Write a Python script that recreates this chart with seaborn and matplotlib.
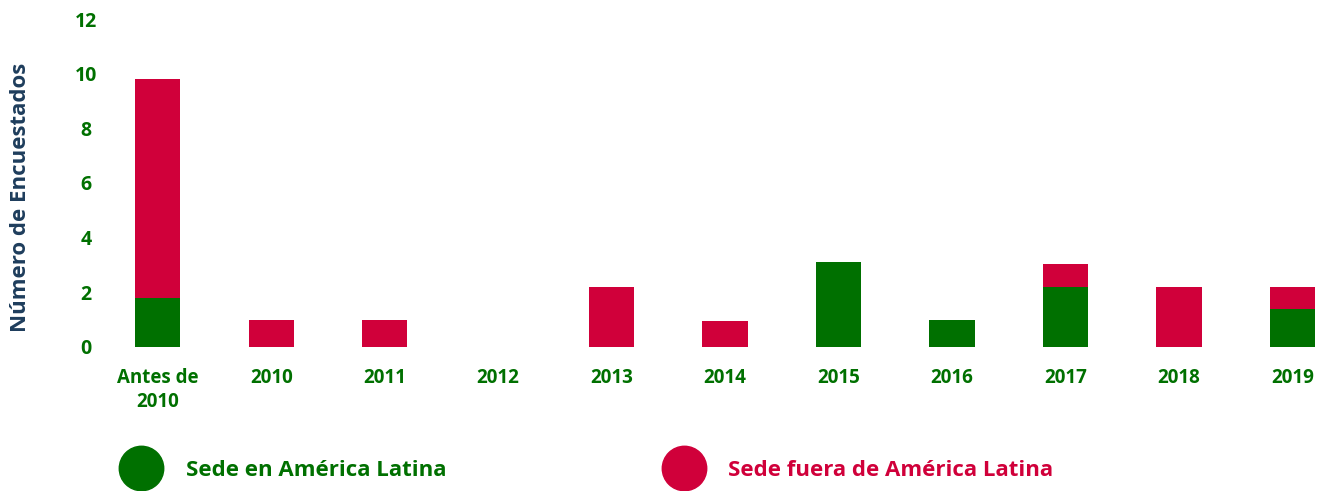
import matplotlib
matplotlib.use("Agg")
import matplotlib.pyplot as plt
from matplotlib.lines import Line2D
import pandas as pd
import seaborn as sns

categories = ["Antes de\n2010", "2010", "2011", "2012", "2013", "2014",
              "2015", "2016", "2017", "2018", "2019"]
sede_en_al = [1.8, 0, 0, 0, 0, 0, 3.1, 1.0, 2.2, 0, 1.4]
sede_fuera_al = [8.0, 1.0, 1.0, 0, 2.2, 0.95, 0, 0, 0.85, 2.2, 0.8]
y_ticks = [0, 2, 4, 6, 8, 10, 12]

GREEN = "#007000"
RED = "#D0003A"
NAVY = "#1E3D5C"

sns.set_style("white")
plt.rcParams["font.family"] = ["Open Sans", "DejaVu Sans"]
plt.rcParams["font.weight"] = "bold"

df = pd.DataFrame({
    "cat": categories,
    "en": sede_en_al,
    "total": [a + b for a, b in zip(sede_en_al, sede_fuera_al)],
})

fig = plt.figure(figsize=(13.22, 4.91), dpi=100)
ax = fig.add_axes([101 / 1322, 144 / 491, 1 - 101 / 1322, 328 / 491])

# stacked: total in red first, green part drawn over it
sns.barplot(ax=ax, data=df, x="cat", y="total", color=RED, width=0.4,
            saturation=1, order=categories, linewidth=0)
sns.barplot(ax=ax, data=df, x="cat", y="en", color=GREEN, width=0.4,
            saturation=1, order=categories, linewidth=0)

ax.set_xlim(-0.5, 10.26)
ax.set_ylim(0, 12)
ax.set_yticks(y_ticks)
ax.set_yticklabels([str(t) for t in y_ticks], color=GREEN, fontsize=14,
                   fontweight="bold", ha="center")
ax.set_xticks(range(len(categories)))
ax.set_xticklabels(categories, color=GREEN, fontsize=13.5, fontweight="bold",
                   linespacing=1.3)
ax.tick_params(axis="y", length=0, pad=11)
ax.tick_params(axis="x", length=0, pad=15)
for s in ax.spines.values():
    s.set_visible(False)
ax.set_xlabel("")
ax.set_ylabel("Número de Encuestados", color=NAVY, fontsize=16,
              fontweight="bold")
ax.yaxis.set_label_coords(-70 / 1221, 0.457)

handles = [
    Line2D([], [], marker="o", linestyle="none", markersize=32,
           markerfacecolor=GREEN, markeredgecolor=GREEN),
    Line2D([], [], marker="o", linestyle="none", markersize=32,
           markerfacecolor=RED, markeredgecolor=RED),
]
fig.legend(handles, ["Sede en América Latina", "Sede fuera de América Latina"],
           loc="center left", bbox_to_anchor=(119 / 1322, 21 / 491),
           ncol=2, frameon=False, labelcolor=[GREEN, RED],
           handlelength=2, handletextpad=1.0, columnspacing=9.7,
           borderpad=0, borderaxespad=0, prop={"weight": "bold", "size": 16})

fig.savefig("out.png", dpi=100)
